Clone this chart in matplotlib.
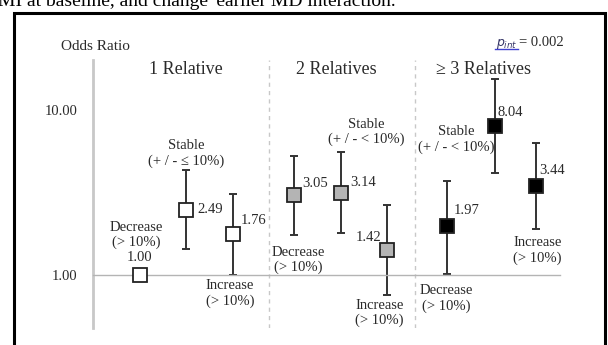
import numpy as np
import matplotlib.pyplot as plt
from matplotlib.patches import Rectangle

serif = ["Liberation Serif", "DejaVu Serif"]
plt.rcParams["font.family"] = serif

groups = ["1 Relative", "2 Relatives", "\u2265 3 Relatives"]
categories = [
    "Decrease\n(> 10%)", "Stable\n(+ / - \u2264 10%)", "Increase\n(> 10%)",
    "Decrease\n(> 10%)", "Stable\n(+ / - < 10%)", "Increase\n(> 10%)",
    "Decrease\n(> 10%)", "Stable\n(+ / - < 10%)", "Increase\n(> 10%)",
]
odds = [1.00, 2.49, 1.76, 3.05, 3.14, 1.42, 1.97, 8.04, 3.44]
ci_low = [1.00, 1.44, 1.00, 1.74, 1.79, 0.76, 1.02, 4.13, 1.89]
ci_high = [1.00, 4.33, 3.08, 5.26, 5.54, 2.64, 3.73, 15.4, 6.34]
p_int = "0.002"

# layout
xpos = [0, 1, 2, 3.3, 4.3, 5.3, 6.58, 7.6, 8.49]
dividers = [2.77, 5.9]
title_x = [0.99, 4.21, 7.36]
fills = ["white"] * 3 + ["#b4b4b4"] * 3 + ["black"] * 3
# offsets (pixels) of value labels and category labels from each point
val_off = [(0, 17), (24, 0), (20, 14), (21, 12), (23, 10), (-19, 12), (20, 16), (16, 13), (16, 16)]
cat_off = [(-3, 40), (0, 56), (-3, -59), (4, -65), (26, 61), (-8, -63), (-1, -72), (-38, -14), (1, -64)]

W, H = 608, 345
fig = plt.figure(figsize=(W / 100, H / 100), dpi=100)
ax = fig.add_axes([93 / W, 1 - 328 / H, (560 - 93) / W, (328 - 60) / H])
ax.set_yscale("log")
ax.set_xlim(-1.0, 9.0)
ax.set_ylim(0.477, 20.1)

txt = "#2a2a2a"
for s in ["top", "right"]:
    ax.spines[s].set_visible(False)
ax.spines["left"].set_color("#c8c8c8")
ax.spines["left"].set_linewidth(2)
ax.spines["bottom"].set_position(("data", 1))
ax.spines["bottom"].set_color("#b4b4b4")
ax.spines["bottom"].set_linewidth(1)
ax.set_xticks([])
ax.set_yticks([1, 10])
ax.set_yticklabels(["1.00", "10.00"])
ax.yaxis.set_minor_locator(plt.NullLocator())
ax.tick_params(axis="y", length=0, pad=11, labelsize=10.5, labelcolor=txt)

for d in dividers:
    ax.axvline(d, color="#c8c8c8", lw=1, ls=(0, (3, 3)))

for i in range(len(odds)):
    if ci_high[i] > ci_low[i]:
        ax.errorbar(xpos[i], odds[i],
                    yerr=[[odds[i] - ci_low[i]], [ci_high[i] - odds[i]]],
                    fmt="none", ecolor="#333333", elinewidth=1.4,
                    capsize=3, capthick=1.4, zorder=2)
    ax.plot(xpos[i], odds[i], marker="s", ms=10, mfc=fills[i],
            mec="#222222", mew=1.3, ls="none", zorder=3)
    ax.annotate("%.2f" % odds[i], (xpos[i], odds[i]), xytext=val_off[i],
                textcoords="offset pixels", ha="center", va="center",
                fontsize=10.5, color=txt)
    ax.annotate(categories[i], (xpos[i], odds[i]), xytext=cat_off[i],
                textcoords="offset pixels", ha="center", va="center",
                fontsize=10.5, color=txt, linespacing=1.2)

for g, tx in zip(groups, title_x):
    ax.text(tx, 1 - (70 - 60) / (328 - 60), g, transform=ax.get_xaxis_transform(),
            ha="center", va="center", fontsize=13, color=txt)

fig.text(95 / W, 1 - 46 / H, "Odds Ratio", ha="center", va="center",
         fontsize=11, color=txt)
fig.text(518 / W, 1 - 44 / H, r"$p_{int}$", ha="right", va="center",
         fontsize=9, color="#333366")
fig.add_artist(plt.Line2D([495 / W, 518 / W], [1 - 49 / H, 1 - 49 / H],
                          color="#4040d0", lw=1))
fig.text(519 / W, 1 - 43 / H, "= " + p_int, ha="left", va="center",
         fontsize=10.5, color=txt)

# page text cut off above the figure and the document frame
fig.text(-2 / W, 1 - 6 / H, "MI at baseline, and change' earlier MD interaction.",
         ha="left", va="baseline", fontsize=14, color="black")
fig.add_artist(Rectangle((14 / W, -0.1), (605 - 14) / W, 1.1 - 13.5 / H,
                         transform=fig.transFigure, fill=False,
                         edgecolor="black", lw=2.2, clip_on=False))

fig.savefig("out.png", dpi=100)
